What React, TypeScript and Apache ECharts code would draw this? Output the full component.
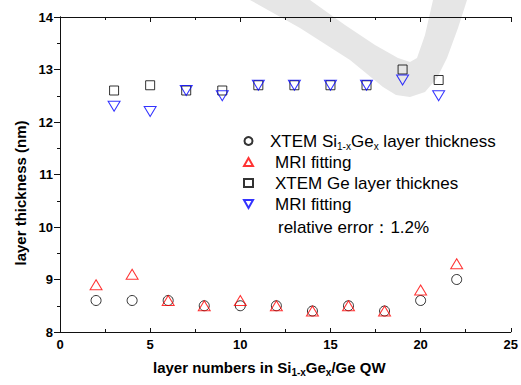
import React, { useEffect, useRef } from "react";
import * as echarts from "echarts";

const xSiGe = [2, 4, 6, 8, 10, 12, 14, 16, 18, 20, 22];
const xtemSiGe = [8.6, 8.6, 8.6, 8.5, 8.5, 8.5, 8.4, 8.5, 8.4, 8.6, 9.0];
const mriSiGe = [8.9, 9.1, 8.6, 8.5, 8.6, 8.5, 8.4, 8.5, 8.4, 8.8, 9.3];
const xGe = [3, 5, 7, 9, 11, 13, 15, 17, 19, 21];
const xtemGe = [12.6, 12.7, 12.6, 12.6, 12.7, 12.7, 12.7, 12.7, 13.0, 12.8];
const mriGe = [12.3, 12.2, 12.6, 12.5, 12.7, 12.7, 12.7, 12.7, 12.8, 12.5];

const seriesIds = ["sige", "mri1", "ge", "mri2"];
const legendLabels = [
  "{a0|XTEM Si}{sub|1-x}{a|Ge}{sub|x}{a| layer thickness}",
  "{b|MRI fitting}",
  "{b|XTEM Ge layer thicknes}",
  "{b|MRI fitting}",
];
const noteText = "relative error：1.2%";
const yTitle = "layer thickness (nm)";
const xTitle = "{m|layer numbers in Si}{s|1-x}{m|Ge}{s|x}{m|/Ge QW}";

const FONT = "'Liberation Sans', Arial, sans-serif";
const DOWN_TRI = "path://M0,0L10,0L5,8.66Z";

export default function App() {
  const ref = useRef<HTMLDivElement>(null);
  useEffect(() => {
    if (!ref.current) return;
    const chart = echarts.init(ref.current, null, { renderer: "svg" });
    const pair = (xs: number[], ys: number[]) => xs.map((x, i) => [x, ys[i]]);
    const hollow = (c: string) => ({ color: "transparent", borderColor: c, borderWidth: 1 });
    const axisLine = { show: true, lineStyle: { color: "#111", width: 1 } };
    chart.setOption({
      animation: false,
      backgroundColor: "#fff",
      grid: { left: 60, right: 6, top: 17, bottom: 53, containLabel: false },
      xAxis: [
        {
          type: "value", min: 0, max: 25, interval: 5, position: "bottom",
          axisLine, splitLine: { show: false },
          axisTick: { inside: true, length: 4, lineStyle: { color: "#111" } },
          minorTick: { show: true, splitNumber: 2, length: 3, lineStyle: { color: "#111" } },
          axisLabel: { fontFamily: FONT, fontWeight: "bold", fontSize: 13, color: "#000", margin: 6 },
        },
        {
          type: "value", min: 0, max: 25, interval: 5, position: "top",
          axisLine, splitLine: { show: false },
          axisTick: { inside: true, length: 5, lineStyle: { color: "#111" } },
          minorTick: { show: true, splitNumber: 2, length: 3, lineStyle: { color: "#111" } },
          axisLabel: { show: false },
        },
      ],
      yAxis: [
        {
          type: "value", min: 8, max: 14, interval: 1, position: "left",
          axisLine, splitLine: { show: false },
          axisTick: { inside: false, length: 4, lineStyle: { color: "#111" } },
          minorTick: { show: true, splitNumber: 2, length: 3, lineStyle: { color: "#111" } },
          axisLabel: { fontFamily: FONT, fontWeight: "bold", fontSize: 13, color: "#000", margin: 7 },
        },
        {
          type: "value", min: 8, max: 14, interval: 1, position: "right",
          axisLine, splitLine: { show: false },
          axisTick: { inside: true, length: 6, lineStyle: { color: "#111" } },
          minorTick: { show: true, splitNumber: 2, length: 2, lineStyle: { color: "#111" } },
          axisLabel: { show: false },
        },
      ],
      legend: {
        orient: "vertical", left: 243, top: 131, itemWidth: 9, itemHeight: 8, itemGap: 1,
        padding: 0,
        data: [
          { name: "sige", icon: "circle" },
          { name: "mri1", icon: "triangle" },
          { name: "ge", icon: "rect" },
          { name: "mri2", icon: DOWN_TRI },
        ],
        formatter: (name: string) => legendLabels[seriesIds.indexOf(name)],
        textStyle: {
          fontFamily: FONT, fontSize: 17, color: "#000", lineHeight: 20,
          rich: {
            a0: { fontFamily: FONT, fontSize: 17, lineHeight: 20, padding: [0, 0, 0, 12] },
            a: { fontFamily: FONT, fontSize: 17, lineHeight: 20 },
            b: { fontFamily: FONT, fontSize: 17, lineHeight: 20, padding: [0, 0, 0, 17] },
            sub: { fontFamily: FONT, fontSize: 10, lineHeight: 10, verticalAlign: "bottom" },
          },
        },
      },
      graphic: [
        {
          type: "polygon", z: -10, silent: true,
          shape: {
            points: [
              [250, 0], [310, 0], [345, 25], [375, 45], [398, 58], [410, 62], [417, 58], [425, 35], [433, 0],
              [467, 0], [458, 28], [447, 58], [437, 78], [425, 92], [410, 97], [396, 95], [383, 87], [350, 60], [300, 28],
            ],
          },
          style: { fill: "#e6e6e6" },
        },
        {
          type: "text", x: 20, y: 193, rotation: Math.PI / 2,
          style: { text: yTitle, font: `bold 15px ${FONT}`, fill: "#000", align: "center", verticalAlign: "middle" },
        },
        {
          type: "text", x: 153, y: 367,
          style: {
            text: xTitle, fill: "#000", align: "left", verticalAlign: "middle",
            rich: {
              m: { fontFamily: FONT, fontWeight: "bold", fontSize: 15, lineHeight: 20 },
              s: { fontFamily: FONT, fontWeight: "bold", fontSize: 10, lineHeight: 10, verticalAlign: "bottom" },
            },
          },
        },
        {
          type: "text", x: 278, y: 227,
          style: { text: noteText, font: `17px ${FONT}`, fill: "#000", align: "left", verticalAlign: "middle" },
        },
      ],
      series: [
        { id: "sige", name: "sige", type: "scatter", data: pair(xSiGe, xtemSiGe), symbol: "circle", symbolSize: 10, itemStyle: hollow("#000"), z: 3 },
        { id: "mri1", name: "mri1", type: "scatter", data: pair(xSiGe, mriSiGe), symbol: "triangle", symbolSize: [12, 10], itemStyle: hollow("#ff0000"), z: 4 },
        { id: "ge", name: "ge", type: "scatter", data: pair(xGe, xtemGe), symbol: "rect", symbolSize: 9, itemStyle: hollow("#000"), z: 3 },
        { id: "mri2", name: "mri2", type: "scatter", data: pair(xGe, mriGe), symbol: DOWN_TRI, symbolSize: [12, 10], itemStyle: hollow("#0000ff"), z: 4 },
      ],
    });
    return () => chart.dispose();
  }, []);
  return <div ref={ref} style={{ position: "fixed", left: 0, top: 0, width: 521, height: 385 }} />;
}
